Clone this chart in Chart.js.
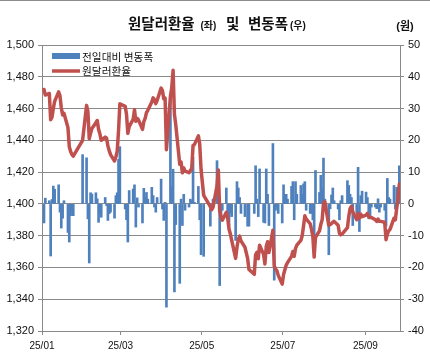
<!DOCTYPE html>
<html><head><meta charset="utf-8">
<script src="https://cdn.jsdelivr.net/npm/chart.js@4/dist/chart.umd.min.js"></script>
<style>html,body{margin:0;padding:0;background:#fff;}#wrap{position:relative;width:430px;height:356px;}canvas{display:block;}</style>
</head><body><div id="wrap"><canvas id="c" width="430" height="356"></canvas></div>
<script>
const dates = [
'01-02','01-03','01-06','01-07','01-08','01-09','01-10','01-13','01-14','01-15','01-16','01-17','01-20','01-21','01-22','01-23','01-24','01-31',
'02-03','02-04','02-05','02-06','02-07','02-10','02-11','02-12','02-13','02-14','02-17','02-18','02-19','02-20','02-21','02-24','02-25','02-26','02-27','02-28',
'03-04','03-05','03-06','03-07','03-10','03-11','03-12','03-13','03-14','03-17','03-18','03-19','03-20','03-21','03-24','03-25','03-26','03-27','03-28','03-31',
'04-01','04-02','04-03','04-04','04-07','04-08','04-09','04-10','04-11','04-14','04-15','04-16','04-17','04-18','04-21','04-22','04-23','04-24','04-25','04-28','04-29','04-30',
'05-02','05-07','05-08','05-09','05-12','05-13','05-14','05-15','05-16','05-19','05-20','05-21','05-22','05-23','05-26','05-27','05-28','05-29','05-30',
'06-02','06-04','06-05','06-09','06-10','06-11','06-12','06-13','06-16','06-17','06-18','06-19','06-20','06-23','06-24','06-25','06-26','06-27','06-30',
'07-01','07-02','07-03','07-04','07-07','07-08','07-09','07-10','07-11','07-14','07-15','07-16','07-17','07-18','07-21','07-22','07-23','07-24','07-25','07-28','07-29','07-30','07-31',
'08-01','08-04','08-05','08-06','08-07','08-08','08-11','08-12','08-13','08-14','08-18','08-19','08-20','08-21','08-22','08-25','08-26','08-27','08-28','08-29',
'09-01','09-02','09-03','09-04','09-05','09-08','09-09','09-10','09-11','09-12','09-15','09-16','09-17','09-18','09-19','09-22','09-23','09-24','09-25','09-26'
];
const rateValues = [
1472,1468.5,1469.5,1453,1454.5,1460,1464.5,1470.5,1468,1460.5,1456,1457,1448,1436,1433,1431,1430,1440,
1462,1458,1441,1444.5,1447.5,1451,1452.5,1447,1444,1440,1442,1441.5,1436.5,1433.5,1431,1427,1429.5,1433,1446,1463,
1461.4,1456.4,1444.4,1448.6,1453.3,1459.3,1452,1453.9,1452.9,1446.9,1451.8,1453.8,1457.4,1458.9,1464.1,1466.7,1465.7,1463.1,1465.1,1472.9,
1471.3,1466.1,1466.6,1434.1,1467.8,1473.2,1484.1,1456.4,1449.9,1424.9,1426.4,1419.6,1422.6,1420.6,1419.6,1421.1,1422.1,1436.8,1437.3,1442.8,1437.8,1421.8,
1405.3,1398.3,1396.3,1397.8,1411.4,1421.4,1395.7,1391.7,1389.7,1394.7,1391.2,1384.2,1381.2,1377.2,1365.7,1372.7,1377.7,1379.7,1376.7,
1372.7,1365.7,1358.7,1355.7,1368,1369.5,1365.5,1374,1368.2,1362.2,1373.2,1376.2,1369.4,1383.4,1361,1359,1358,1355,1349.5,
1355.5,1358.5,1361.5,1363,1367,1370,1367,1372,1374,1377,1380,1386,1392.5,1390.5,1387.5,1384,1379.5,1366.5,1379,1383,1387,1390,1400.5,
1401.4,1386.5,1387,1387.5,1388.5,1389,1386.5,1381.5,1380.5,1381,1385,1392,1397,1398.5,1395,1390,1394,1391,1393.5,1392,
1393,1394,1392,1391.5,1391.5,1390,1389,1390.5,1389,1389,1388.5,1377.5,1381,1383,1384,1391,1390,1397,1403,1412.5
];
const changeValues = [
-6,1.8,1,-16.4,1.4,5.6,4.6,6,-2.6,-7.6,-4.5,1,-9,-12,-3.7,-2,-3.7,15.5,
14.5,-4.7,-18.6,3.5,3.1,3.5,1.6,-5.8,-3.1,-4.2,2,-0.5,-5.2,-3.1,-2.6,-4.5,2.6,3.5,14,18,
-1.6,-5,-12,4.2,4.7,6,-7.3,1.9,-1,-6,4.9,2,3.6,1.5,5.2,2.6,-1,-2.6,2,7.8,
-1.6,-5.2,0.5,-32.5,33.7,5.4,10.9,-27.7,-6.5,-25,1.5,-6.8,3,-2,-1,1.5,1,14.7,0.5,5.5,-5,-16,
-16.5,-7,-2,1.5,13.6,10,-25.7,-4,-2,5,-3.5,-7,-3,-4,-11.5,7,5,2,-3,
-4,-7,-7,-3,12,1.5,-4,11,-5.8,-6,11,3,-6.8,19,-24,-2,-1,-3,-6,
6,3,3,1.5,5.5,7,-5,7,3,5.8,3,6.3,7,-2,-3,-3,-5,-12,10.5,3.6,9,4.7,14.4,
1.5,-16,-1.5,2.8,5,1,-1.6,-5,1,2.6,7.3,5.8,3,2,-6.8,-3,11.5,-8.7,2.6,4,
3.7,2,-4.7,-4,-1,-1,-1.5,1.6,-2.6,-1,-2,-7,8,2,1.5,5.8,-1.6,5.2,2,12
];
const xTickDays = [0, 59, 120, 181, 243];
const xTickLabels = ['25/01','25/03','25/05','25/07','25/09'];
const seriesNames = ['전일대비 변동폭','원달러환율'];

function dayOf(md){ const p = md.split('-').map(Number); return (Date.UTC(2025,p[0]-1,p[1]) - Date.UTC(2025,0,1))/86400000; }
const ratePts = dates.map((d,i)=>({x: dayOf(d)+0.5, y: rateValues[i]}));
const chgPts = dates.map((d,i)=>({x: dayOf(d)+0.5, y: changeValues[i]}));

const GRID = '#8a8a8a';
const BLUE = '#4F81BD';
const RED = '#C0504D';
const KR = '"Noto Sans CJK KR", sans-serif';
const MIX = '"Liberation Sans", "Noto Sans CJK KR", sans-serif';
const NUM = '"Liberation Sans", Arial, sans-serif';

const decor = {
  id: 'decor',
  afterDraw(chart){
    const ctx = chart.ctx;
    ctx.save();
    ctx.fillStyle = '#8c8c8c';
    ctx.fillRect(0,0,430,1);
    ctx.fillStyle = '#111';
    ctx.textBaseline = 'alphabetic';
    ctx.textAlign = 'left';
    const big = 'bold 14.5px ' + KR, small = 'bold 10px ' + MIX;
    const segs = [['원달러환율',big,128],['(좌)',small,200.5],['및',big,226],['변동폭',big,248],['(우)',small,290]];
    segs.forEach(s=>{ ctx.font = s[1]; ctx.fillText(s[0], s[2], 28.5); });
    ctx.font = 'bold 11px ' + MIX;
    ctx.textAlign = 'center';
    ctx.fillText('(원)', 405, 29.5);
    ctx.textAlign = 'left';
    ctx.textBaseline = 'middle';
    ctx.fillStyle = BLUE;
    ctx.fillRect(52, 53, 28, 6);
    ctx.strokeStyle = RED; ctx.lineWidth = 3.5;
    ctx.beginPath(); ctx.moveTo(52, 71); ctx.lineTo(80, 71); ctx.stroke();
    ctx.fillStyle = '#111';
    ctx.font = '10.7px ' + KR;
    ctx.fillText(seriesNames[0], 82, 56.5);
    ctx.fillText(seriesNames[1], 82, 71);
    ctx.restore();
  }
};

new Chart(document.getElementById('c'), {
  type: 'bar',
  data: { datasets: [
    { type:'line', label: seriesNames[1], data: ratePts, yAxisID:'y', xAxisID:'x', borderColor: RED, borderWidth: 3.5, pointRadius: 0, tension: 0, order: 0, borderJoinStyle:'round', borderCapStyle:'round' },
    { type:'bar', label: seriesNames[0], data: chgPts, yAxisID:'y1', xAxisID:'x', backgroundColor: BLUE, barThickness: 2, order: 1 }
  ]},
  options: {
    responsive: false, animation: false, devicePixelRatio: 1,
    layout: { padding: { top: 45, left: 0, right: 0, bottom: 0 } },
    plugins: { legend: { display: false }, title: { display: false }, tooltip: { enabled: false } },
    scales: {
      x: {
        type: 'linear', min: 0, max: 269, offset: false,
        afterBuildTicks: s => { s.ticks = xTickDays.map(v => ({ value: v })); },
        afterFit: s => { s.height = 25; },
        ticks: { autoSkip: false, maxRotation: 0, padding: 5, color: '#111', font: { family: NUM, size: 10 },
          callback: v => { const i = xTickDays.indexOf(v); return i >= 0 ? xTickLabels[i] : ''; } },
        grid: { drawOnChartArea: false, drawTicks: true, tickLength: 4, color: GRID, offset: false },
        border: { color: GRID }
      },
      y: {
        position: 'left', min: 1320, max: 1500,
        afterFit: s => { s.width = 42; },
        ticks: { stepSize: 20, padding: 4, color: '#111', font: { family: NUM, size: 11 }, callback: v => v.toLocaleString('en-US') },
        grid: { color: GRID, tickLength: 4 },
        border: { color: GRID }
      },
      y1: {
        position: 'right', min: -40, max: 50,
        afterFit: s => { s.width = 30; },
        ticks: { stepSize: 10, padding: 4, color: '#111', font: { family: NUM, size: 11 } },
        grid: { drawOnChartArea: false, tickLength: 4, color: GRID },
        border: { color: GRID }
      }
    }
  },
  plugins: [decor]
});
</script></body></html>
